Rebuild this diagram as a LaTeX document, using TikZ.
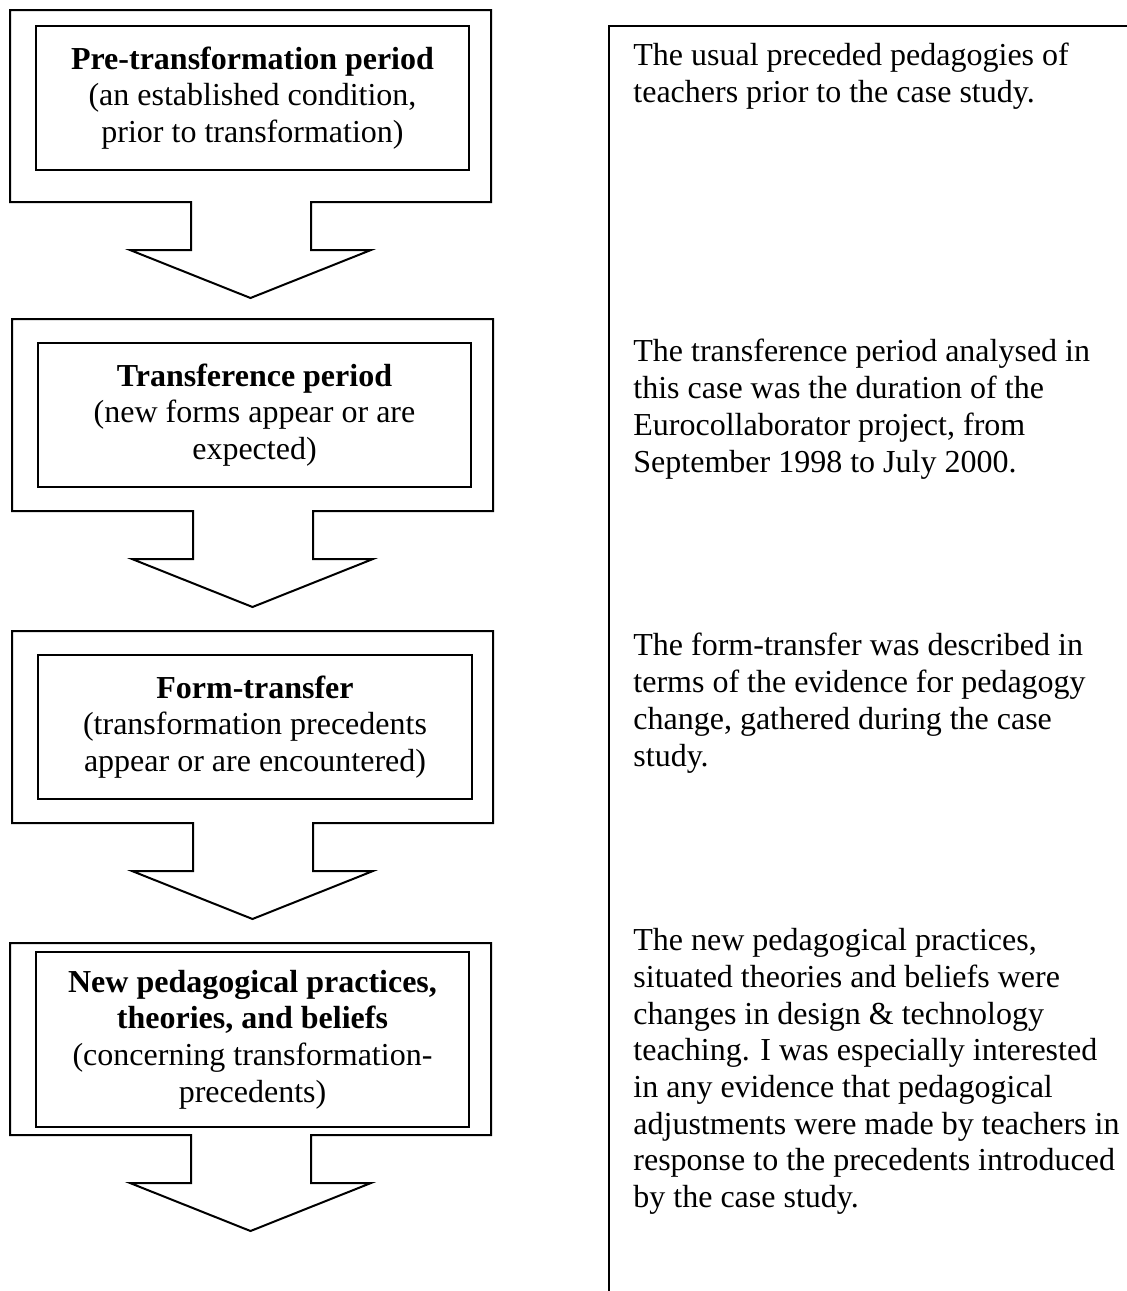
\documentclass[tikz,border=0pt]{standalone}
\usepackage{fontspec}
\setmainfont{Liberation Serif}
\tikzset{
	body/.style={font=\fontsize{16}{18.35}\selectfont},
	stagebox/.style={draw, line width=1pt, align=center, inner sep=0pt, body},
	notetext/.style={align=left, anchor=north west, inner sep=0pt, body},
}
\begin{document}
\begin{tikzpicture}[x=0.5pt, y=-0.5pt]
		\useasboundingbox (0,0) rectangle (1127,1291);
		% down-arrow callouts
		\foreach \dx/\t in {0/10, 2/319, 2/631, 0/943}{
			\draw[line width=1pt](10+\dx,\t) -- (491+\dx,\t) -- (491+\dx,\t+192) -- (311+\dx,\t+192)
				-- (311+\dx,\t+240) -- (371+\dx,\t+240) -- (250.5+\dx,\t+288) -- (130+\dx,\t+240)
				-- (191+\dx,\t+240) -- (191+\dx,\t+192) -- (10+\dx,\t+192) -- cycle;
		}
		\node[stagebox, minimum width=216.5pt, minimum height=72pt] (pre) at (252.5,98)
			{\textbf{Pre-transformation period}\\(an established condition,\\prior to transformation)};
		\node[stagebox, minimum width=216.5pt, minimum height=72pt] (trans) at (254.5,415)
			{\textbf{Transference period}\\(new forms appear or are\\expected)};
		\node[stagebox, minimum width=217pt, minimum height=72pt] (form) at (255,727)
			{\textbf{Form-transfer}\\(transformation precedents\\appear or are encountered)};
		\node[stagebox, minimum width=216.5pt, minimum height=87.5pt] (newped) at (252.5,1039.5)
			{\textbf{New pedagogical practices,}\\\textbf{theories, and beliefs}\\(concerning transformation-\\precedents)};
		% notes column
		\coordinate (T) at (609,26);
		\coordinate (B) at (609,1291);
		\coordinate (R) at (1127,26);
		\draw[line width=1.2pt](B) -- (T) -- (R);
		\node[notetext] (n1) at (633,43)
			{The usual preceded pedagogies of\\teachers prior to the case study.};
		\node[notetext] (n2) at (633,339)
			{The transference period analysed in\\this case was the duration of the\\Eurocollaborator project, from\\September 1998 to July 2000.};
		\node[notetext] (n3) at (633,633)
			{The form-transfer was described in\\terms of the evidence for pedagogy\\change, gathered during the case\\study.};
		\node[notetext] (n4) at (633,928)
			{The new pedagogical practices,\\situated theories and beliefs were\\changes in design \& technology\\teaching. I was especially interested\\in any evidence that pedagogical\\adjustments were made by teachers in\\response to the precedents introduced\\by the case study.};
\end{tikzpicture}
\end{document}
